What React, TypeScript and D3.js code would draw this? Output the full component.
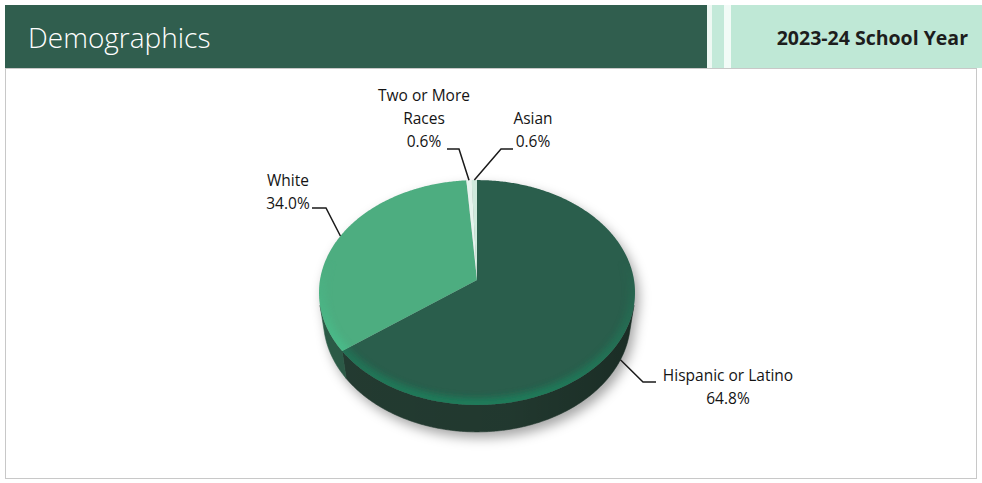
import React from "react";
import * as d3 from "d3";

// ---- data ----
const categories = ["Hispanic or Latino", "White", "Two or More Races", "Asian"];
const values = [64.8, 34.0, 0.6, 0.6];
const labelLines = [["Hispanic or Latino", "64.8%"], ["White", "34.0%"], ["Two or More", "Races", "0.6%"], ["Asian", "0.6%"]];
const title = "Demographics";
const yearLabel = "2023-24 School Year";

// ---- styles ----
const topColors = ["#2a5e4c", "#4dad80", "#e6f4ee", "#cfeadd"];
const rimColors = ["#1c7f5b", "#47c58f", "#ffffff", "#ffffff"];
const sideColors = ["#233b31", "#2b5a46", "#9fbfb0", "#9fbfb0"];

const W = 982, H = 483;
const CX = 477, CY = 280, S = 157;
const PHI = Math.PI / 4;
const DIST = 9 * Math.cos(PHI);
const HEIGHT3D = 0.255;

function project(a: number, yw: number): [number, number] {
  const x = Math.sin(a), z = Math.cos(a);
  const depth = DIST + z * Math.cos(PHI) - yw * Math.sin(PHI);
  const up = yw * Math.cos(PHI) + z * Math.sin(PHI);
  return [CX + (S * x * DIST) / depth, CY - (S * up * DIST) / depth];
}
function vertex(yw: number): [number, number] {
  const depth = DIST - yw * Math.sin(PHI);
  const up = yw * Math.cos(PHI);
  return [CX, CY - (S * up * DIST) / depth];
}

// label layout: anchor on rim (top/bottom), elbow, line end, text position
const labelLayout = [
  { rim: "bottom", elbow: [643, 382], end: [656, 382], tx: 728, ty: 381, anchor: "middle" },
  { rim: "top", elbow: [326, 208], end: [312, 208], tx: 288, ty: 186, anchor: "middle" },
  { rim: "top", elbow: [459, 149], end: [447, 149], tx: 424, ty: 101, anchor: "middle" },
  { rim: "top", elbow: [501, 149], end: [513, 149], tx: 533, ty: 124, anchor: "middle" },
];

export default function App() {
  const pie = d3.pie<number>().sort(null).value((d) => d).startAngle(0).endAngle(2 * Math.PI);
  const arcs = pie(values);
  const line = d3.line();
  const aVis = Math.acos(-1 / (DIST * Math.cos(PHI)));
  const visMin = aVis, visMax = 2 * Math.PI - aVis;

  const samples = (a0: number, a1: number, yw: number) => {
    const n = Math.max(2, Math.ceil(Math.abs(a1 - a0) / 0.01));
    return d3.range(n + 1).map((i) => project(a0 + ((a1 - a0) * i) / n, yw));
  };

  const topPath = (a0: number, a1: number) =>
    line([vertex(0), ...samples(a0, a1, 0)])! + "Z";
  const fullTop = line(samples(0, 2 * Math.PI, 0))! + "Z";

  const walls = arcs.map((d) => {
    const a0 = Math.max(d.startAngle, visMin), a1 = Math.min(d.endAngle, visMax);
    if (a1 <= a0) return null;
    const pts = [...samples(a0, a1, 0), ...samples(a1, a0, -HEIGHT3D)];
    return line(pts)! + "Z";
  });

  const wallAll = line([...samples(visMin, visMax, 0), ...samples(visMax, visMin, -HEIGHT3D)])! + "Z";

  return (
    <svg width={W} height={H} style={{ position: "absolute", left: 0, top: 0, background: "#fff" }}>
      <defs>
        <filter id="shadow" x="-30%" y="-30%" width="160%" height="160%">
          <feGaussianBlur stdDeviation="6" />
        </filter>
        <filter id="soft" x="-10%" y="-10%" width="120%" height="120%">
          <feGaussianBlur stdDeviation="3" />
        </filter>
        <linearGradient id="frontMask" gradientUnits="userSpaceOnUse" x1="0" y1={CY - 20} x2="0" y2={CY + 125}>
          <stop offset="0" stopColor="#fff" stopOpacity="0" />
          <stop offset="1" stopColor="#fff" stopOpacity="1" />
        </linearGradient>
        <mask id="rimMask" maskUnits="userSpaceOnUse" x="0" y="0" width={W} height={H}>
          <rect x="0" y="0" width={W} height={H} fill="url(#frontMask)" />
        </mask>
        <linearGradient id="wallShade" gradientUnits="userSpaceOnUse" x1={CX - 160} y1="0" x2={CX + 160} y2="0">
          <stop offset="0" stopColor="#000" stopOpacity="0" />
          <stop offset="0.6" stopColor="#000" stopOpacity="0.05" />
          <stop offset="1" stopColor="#000" stopOpacity="0.25" />
        </linearGradient>
        {arcs.map((d, i) => (
          <clipPath id={`clip${i}`} key={i}>
            <path d={topPath(d.startAngle, d.endAngle)} />
          </clipPath>
        ))}
      </defs>

      {/* header */}
      <rect x={5} y={5} width={702} height={63} fill="#305e4e" />
      <rect x={707} y={5} width={5} height={63} fill="#eef8f3" />
      <rect x={712} y={5} width={12} height={63} fill="#c3e9d9" />
      <rect x={724} y={5} width={7} height={63} fill="#f2fbf7" />
      <rect x={731} y={5} width={251} height={63} fill="#bfe8d6" />
      <text x={28} y={48} fill="#ffffff" fontFamily="'Open Sans', sans-serif" fontWeight={300} fontSize={28}>
        {title}
      </text>
      <text x={968} y={45} textAnchor="end" fill="#1d1d1d" fontFamily="'Open Sans', sans-serif" fontWeight={700} fontSize={19.5}>
        {yearLabel}
      </text>

      {/* body panel */}
      <rect x={5.5} y={68.5} width={971} height={410} fill="#fff" stroke="#c8c8c8" strokeWidth={1} />

      {/* shadow */}
      <g transform="translate(4,6)" filter="url(#shadow)">
        <path d={wallAll} fill="#000" opacity={0.35} />
        <path d={fullTop} fill="#000" opacity={0.35} />
      </g>

      {/* walls */}
      {walls.map((p, i) => (p ? <path key={"w" + i} d={p} fill={sideColors[i]} stroke={sideColors[i]} strokeWidth={0.6} /> : null))}
      <path d={wallAll} fill="url(#wallShade)" />

      {/* top faces */}
      {arcs.map((d, i) => (
        <g key={"t" + i}>
          <path d={topPath(d.startAngle, d.endAngle)} fill={topColors[i]} />
          <g clipPath={`url(#clip${i})`} mask="url(#rimMask)">
            <path d={fullTop} fill="none" stroke={rimColors[i]} strokeWidth={14} filter="url(#soft)" opacity={0.9} />
          </g>
        </g>
      ))}

      {/* labels */}
      {arcs.map((d, i) => {
        const L = labelLayout[i];
        const mid = (d.startAngle + d.endAngle) / 2;
        const anchorPt = project(mid, L.rim === "bottom" ? -HEIGHT3D : 0);
        const pts: [number, number][] = [anchorPt, L.elbow as [number, number], L.end as [number, number]];
        return (
          <g key={"l" + i}>
            <path d={line(pts)!} fill="none" stroke="#1a1a1a" strokeWidth={1.5} />
            <text textAnchor={L.anchor as any} fontFamily="'Open Sans', sans-serif" fontSize={15.5} fill="#141414">
              {labelLines[i].map((t, j) => (
                <tspan key={j} x={L.tx} y={L.ty + j * 23}>
                  {t}
                </tspan>
              ))}
            </text>
          </g>
        );
      })}
    </svg>
  );
}
